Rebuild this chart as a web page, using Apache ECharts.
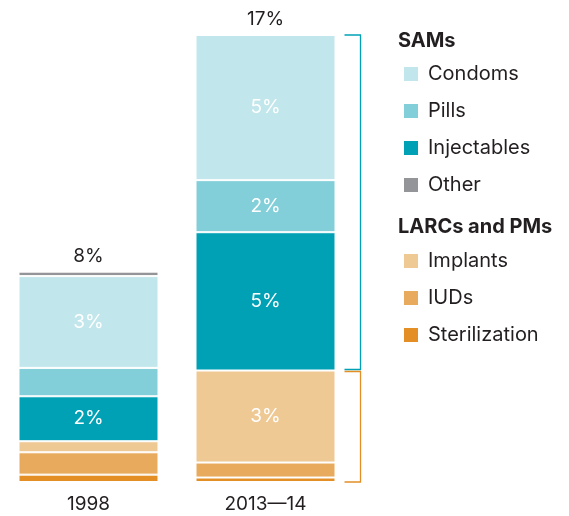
<!DOCTYPE html>
<html>
<head>
<meta charset="utf-8">
<script src="https://cdn.jsdelivr.net/npm/echarts@6/dist/echarts.min.js"></script>
<style>html,body{margin:0;padding:0;background:#fff}#c{width:569px;height:516px}</style>
</head>
<body>
<div id="c"></div>
<script>
const categories = ['1998', '2013\u201414'];
const seriesNames = ['Sterilization', 'IUDs', 'Implants', 'Injectables', 'Pills', 'Condoms', 'Other'];
const sterilization = [0.28, 0.17];
const iuds = [0.85, 0.57];
const implants = [0.42, 3.50];
const injectables = [1.71, 5.26];
const pills = [1.08, 1.98];
const condoms = [3.49, 5.52];
const other = [0.17, 0];
const totals = [8, 17];
const totalLabels = ['8%', '17%'];
// segment labels shown inside bars ('' = no label)
const sterilizationLabels = ['', ''];
const iudsLabels = ['', ''];
const implantsLabels = ['', '3%'];
const injectablesLabels = ['2%', '5%'];
const pillsLabels = ['', '2%'];
const condomsLabels = ['3%', '5%'];
const otherLabels = ['', ''];
const larcTotal = [0, 1].map(i => sterilization[i] + iuds[i] + implants[i]);

const colors = {
  Condoms: '#c1e6eb', Pills: '#82cfd9', Injectables: '#00a1b5', Other: '#939598',
  Implants: '#efc994', IUDs: '#e8aa5c', Sterilization: '#e38f26'
};
const FONT = 'Inter';
const TXT = '#231f20';

const valuesByName = {Sterilization: sterilization, IUDs: iuds, Implants: implants, Injectables: injectables, Pills: pills, Condoms: condoms, Other: other};
const labelsByName = {Sterilization: sterilizationLabels, IUDs: iudsLabels, Implants: implantsLabels, Injectables: injectablesLabels, Pills: pillsLabels, Condoms: condomsLabels, Other: otherLabels};

const chart = echarts.init(document.getElementById('c'), null, {renderer: 'canvas'});
const series = seriesNames.map(n => ({
  name: n, type: 'bar', stack: 's', barWidth: 140,
  itemStyle: {color: colors[n], borderColor: '#fff', borderWidth: 1},
  data: valuesByName[n].map((v, i) => ({value: v, label: {show: !!labelsByName[n][i], formatter: labelsByName[n][i]}})),
  label: {position: 'inside', color: '#fff', fontFamily: FONT, fontSize: 19},
  emphasis: {disabled: true}
}));
series.push({
  name: 'total', type: 'scatter', symbolSize: 0, silent: true,
  itemStyle: {opacity: 1},
  data: totals.map((v, i) => ({value: v, label: {formatter: totalLabels[i]}})),
  label: {show: true, position: 'top', distance: 6, color: TXT, opacity: 1, fontFamily: FONT, fontSize: 19}
});
const legendBase = {
  orient: 'vertical', left: 397, itemWidth: 16, itemHeight: 16, itemGap: 17,
  icon: 'rect', selectedMode: false,
  textStyle: {fontFamily: FONT, fontSize: 20, color: TXT, padding: [0, 0, 0, 4]}
};
chart.setOption({
  animation: false,
  grid: {left: 0, width: 354, top: 35, bottom: 34},
  xAxis: {type: 'category', data: categories, axisLine: {show: false}, axisTick: {show: false},
    axisLabel: {color: TXT, fontFamily: FONT, fontSize: 19, margin: 13}},
  yAxis: {type: 'value', min: 0, max: 17, show: false},
  legend: [
    Object.assign({}, legendBase, {top: 59, data: ['Condoms', 'Pills', 'Injectables', 'Other']}),
    Object.assign({}, legendBase, {top: 246, data: ['Implants', 'IUDs', 'Sterilization']})
  ],
  series: series
});

// brackets and legend headers
const x2 = chart.convertToPixel({xAxisIndex: 0}, 1);
const barRight = x2 + 70;
const bx1 = barRight + 9, bx2 = barRight + 25;
const yTop = chart.convertToPixel({yAxisIndex: 0}, totals[1]);
const yMid = chart.convertToPixel({yAxisIndex: 0}, larcTotal[1]);
const yBase = chart.convertToPixel({yAxisIndex: 0}, 0);
chart.setOption({
  graphic: [
    {type: 'polyline', shape: {points: [[bx1, yTop], [bx2, yTop], [bx2, yMid - 1], [bx1, yMid - 1]]},
      style: {stroke: '#00a1b5', lineWidth: 1.3, fill: null}},
    {type: 'polyline', shape: {points: [[bx1, yMid + 1], [bx2, yMid + 1], [bx2, yBase], [bx1, yBase]]},
      style: {stroke: '#e38f26', lineWidth: 1.3, fill: null}},
    {type: 'text', left: 398, top: 31, style: {text: 'SAMs', font: 'bold 20px ' + FONT, fill: TXT}},
    {type: 'text', left: 398, top: 217, style: {text: 'LARCs and PMs', font: 'bold 20px ' + FONT, fill: TXT}}
  ]
});
</script>
</body>
</html>
